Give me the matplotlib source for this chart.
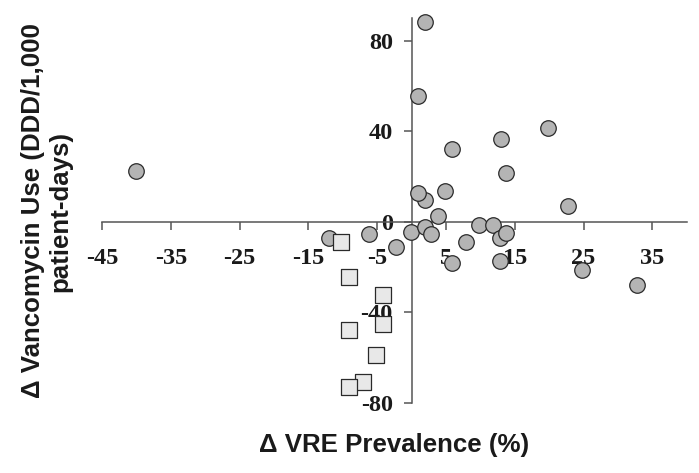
import matplotlib
matplotlib.use("Agg")
import matplotlib.pyplot as plt

# Hospitals with increased/decreased vancomycin use (circles)
circle_x = [-40.0, -12.0, -6.2, -2.2, -0.1, 1.9, 2.9, 3.9, 1.9, 0.9, 4.9, 5.9, 0.9, 1.9,
            13.0, 13.8, 19.9, 22.8, 5.9, 7.9, 9.8, 11.9, 12.8, 13.8, 12.8, 24.8, 32.8]
circle_y = [22.5, -7.2, -5.3, -11.3, -4.3, -2.3, -5.4, 2.6, 9.6, 12.6, 13.5, 32.3, 55.5, 88.2,
            36.7, 21.7, 41.5, 6.8, -18.4, -9.1, -1.3, -1.3, -7.2, -5.1, -17.2, -21.1, -27.9]
# Square series
square_x = [-10.2, -9.1, -4.1, -9.1, -4.1, -5.1, -7.1, -9.1]
square_y = [-9.1, -24.2, -32.2, -48.0, -45.4, -59.0, -70.8, -73.0]

x_ticks = [-45, -35, -25, -15, -5, 5, 15, 25, 35]
y_ticks = [-80, -40, 0, 40, 80]
x_label = "\u0394 VRE Prevalence (%)"
y_label = "\u0394 Vancomycin Use (DDD/1,000\npatient-days)"

fig = plt.figure(figsize=(6.99, 4.73), dpi=100)
ax = fig.add_axes([0.1459, 0.1486, 0.8365, 0.8127])

ax.scatter(circle_x, circle_y, s=125, marker="o", facecolor="#b4b4b4",
           edgecolor="#2a2a2a", linewidth=0.9, zorder=3, clip_on=False)
ax.scatter(square_x, square_y, s=125, marker="s", facecolor="#e8e8e8",
           edgecolor="#2a2a2a", linewidth=0.9, zorder=4, clip_on=False)

ax.set_xlim(-45, 40)
ax.set_ylim(-80, 90)

for s in ["top", "right"]:
    ax.spines[s].set_visible(False)
ax.spines["left"].set_position(("data", 0))
ax.spines["bottom"].set_position(("data", 0))
ax.spines["left"].set_bounds(-80, 90)
ax.spines["bottom"].set_bounds(-45, 40)
for s in ["left", "bottom"]:
    ax.spines[s].set_color("#555555")
    ax.spines[s].set_linewidth(1.1)

ax.set_xticks(x_ticks)
ax.set_yticks(y_ticks)
ax.set_xticklabels([str(v) for v in x_ticks])
ax.set_yticklabels([str(v) for v in y_ticks])
ax.tick_params(axis="x", direction="out", length=6, width=1.1, color="#555555", pad=13)
ax.tick_params(axis="y", direction="out", length=5.5, width=1.1, color="#555555", pad=8)
for lab in ax.get_xticklabels() + ax.get_yticklabels():
    lab.set_fontfamily("Liberation Serif")
    lab.set_fontweight("bold")
    lab.set_fontsize(17.5)
    lab.set_color("#1a1a1a")

fig.text(394 / 699, 1 - 445 / 473, x_label, ha="center", va="center",
         fontfamily="Liberation Sans", fontweight="bold", fontsize=18.6, color="#1a1a1a")
fig.text(47 / 699, 1 - 211 / 473, y_label, ha="center", va="center", rotation=90,
         multialignment="center", linespacing=1.17,
         fontfamily="Liberation Sans", fontweight="bold", fontsize=18.6, color="#1a1a1a")

fig.savefig("out.png", dpi=100)
